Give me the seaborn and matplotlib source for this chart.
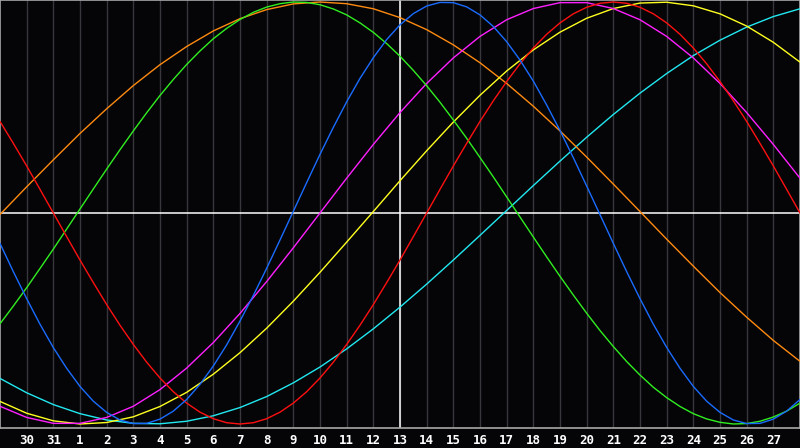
import numpy as np
import pandas as pd
import matplotlib
matplotlib.use('Agg')
import matplotlib.pyplot as plt
import seaborn as sns

# day offsets (0 = the 30th); the fast curves are read every half day
days = list(range(-1, 30))
half_days = [d / 2 for d in range(-2, 59)]
tick_pos = list(range(0, 29))
tick_labels = ['30', '31'] + [str(d) for d in range(1, 28)]
today_pos = 14  # the 13th

# curve values, -1 .. 1
blue = [-0.144, -0.278, -0.406, -0.527, -0.638, -0.736, -0.822, -0.892, -0.945, -0.981,
        -0.998, -0.997, -0.977, -0.939, -0.884, -0.812, -0.725, -0.625, -0.512, -0.391,
        -0.262, -0.128, 0.008, 0.144, 0.278, 0.406, 0.527, 0.638, 0.736, 0.822,
        0.892, 0.945, 0.981, 0.998, 0.997, 0.977, 0.939, 0.884, 0.812, 0.725,
        0.625, 0.512, 0.391, 0.262, 0.128, -0.008, -0.144, -0.278, -0.406, -0.527,
        -0.637, -0.736, -0.822, -0.892, -0.945, -0.981, -0.998, -0.997, -0.977, -0.939, -0.884]
red = [0.434, 0.330, 0.223, 0.112, 0.0, -0.112, -0.223, -0.330, -0.434, -0.532,
       -0.623, -0.707, -0.782, -0.847, -0.901, -0.944, -0.975, -0.994, -1.0, -0.994,
       -0.975, -0.944, -0.901, -0.847, -0.782, -0.707, -0.623, -0.532, -0.434, -0.330,
       -0.223, -0.112, 0.0, 0.112, 0.223, 0.330, 0.434, 0.532, 0.623, 0.707,
       0.782, 0.847, 0.901, 0.944, 0.975, 0.994, 1.0, 0.994, 0.975, 0.944,
       0.901, 0.847, 0.782, 0.707, 0.623, 0.532, 0.434, 0.330, 0.223, 0.112, 0.0]
green = [-0.525, -0.441, -0.354, -0.263, -0.171, -0.076, 0.019, 0.114, 0.208, 0.300,
         0.389, 0.475, 0.557, 0.633, 0.704, 0.768, 0.826, 0.875, 0.917, 0.951,
         0.976, 0.992, 1.0, 0.998, 0.987, 0.967, 0.939, 0.901, 0.856, 0.803,
         0.743, 0.676, 0.603, 0.525, 0.441, 0.354, 0.263, 0.171, 0.076, -0.019,
         -0.114, -0.208, -0.300, -0.389, -0.475, -0.557, -0.633, -0.704, -0.768, -0.826,
         -0.875, -0.917, -0.951, -0.976, -0.992, -1.0, -0.998, -0.987, -0.967, -0.939, -0.901]
orange = [-0.007, 0.124, 0.252, 0.377, 0.494, 0.604, 0.703, 0.789, 0.863, 0.921,
          0.964, 0.991, 1.0, 0.992, 0.968, 0.926, 0.869, 0.797, 0.712, 0.614,
          0.506, 0.389, 0.265, 0.137, 0.007, -0.124, -0.252, -0.377, -0.494, -0.604, -0.703]
magenta = [-0.916, -0.969, -0.997, -0.997, -0.969, -0.916, -0.837, -0.735, -0.614, -0.476,
           -0.325, -0.165, 0.0, 0.165, 0.325, 0.476, 0.614, 0.735, 0.837, 0.916,
           0.969, 0.997, 0.997, 0.969, 0.916, 0.837, 0.735, 0.614, 0.476, 0.325, 0.165]
yellow = [-0.893, -0.949, -0.985, -1.0, -0.993, -0.966, -0.917, -0.850, -0.764, -0.662,
          -0.546, -0.418, -0.281, -0.138, 0.007, 0.153, 0.295, 0.431, 0.558, 0.673,
          0.773, 0.857, 0.923, 0.969, 0.995, 0.999, 0.982, 0.944, 0.886, 0.809, 0.715]
cyan = [-0.784, -0.852, -0.908, -0.951, -0.981, -0.997, -0.999, -0.987, -0.961, -0.922,
        -0.870, -0.805, -0.730, -0.644, -0.549, -0.446, -0.337, -0.223, -0.106, 0.012,
        0.130, 0.246, 0.359, 0.467, 0.568, 0.661, 0.746, 0.819, 0.881, 0.931, 0.968]

series = {'cyan': (days, cyan), 'orange': (days, orange), 'yellow': (days, yellow),
          'magenta': (days, magenta), 'green': (half_days, green),
          'red': (half_days, red), 'blue': (half_days, blue)}
colors = {'cyan': '#22e8f0', 'orange': '#ff8a10', 'yellow': '#ffff20',
          'magenta': '#ff20ff', 'green': '#30ee20', 'red': '#ff1010', 'blue': '#1a6cff'}

df = pd.concat([pd.DataFrame({'day': x, 'value': v, 'curve': k})
                for k, (x, v) in series.items()], ignore_index=True)

sns.set_style('dark')
plt.rcParams['font.family'] = ['DejaVu Sans Mono', 'DejaVu Sans']

fig = plt.figure(figsize=(8, 4.48), dpi=100, facecolor='#050508')
ax = fig.add_axes([0, 20 / 448, 1, 428 / 448])
ax.set_facecolor('#050508')

# day grid
for p in tick_pos:
    ax.axvline(p, color='#38383c', lw=1, zorder=1)
ax.axvline(today_pos, color='white', lw=1.1, zorder=2)
ax.axhline(0, color='white', lw=1.1, zorder=2)

sns.lineplot(data=df, x='day', y='value', hue='curve', palette=colors,
             hue_order=list(series.keys()), legend=False, lw=1, ax=ax, zorder=3)

ax.set_xlim(-1, 29)
ax.set_ylim(-1.019, 1.0095)
ax.set_xticks(tick_pos)
ax.set_xticklabels(tick_labels, color='white', fontweight='bold', fontsize=9)
ax.set_yticks([])
ax.tick_params(axis='x', length=0, pad=4)
ax.set_xlabel('')
ax.set_ylabel('')
ax.grid(False)
for s in ax.spines.values():
    s.set_visible(True)
    s.set_color('#a8a8a8')
    s.set_linewidth(1.2)

fig.savefig('out.png', dpi=100, facecolor=fig.get_facecolor())
